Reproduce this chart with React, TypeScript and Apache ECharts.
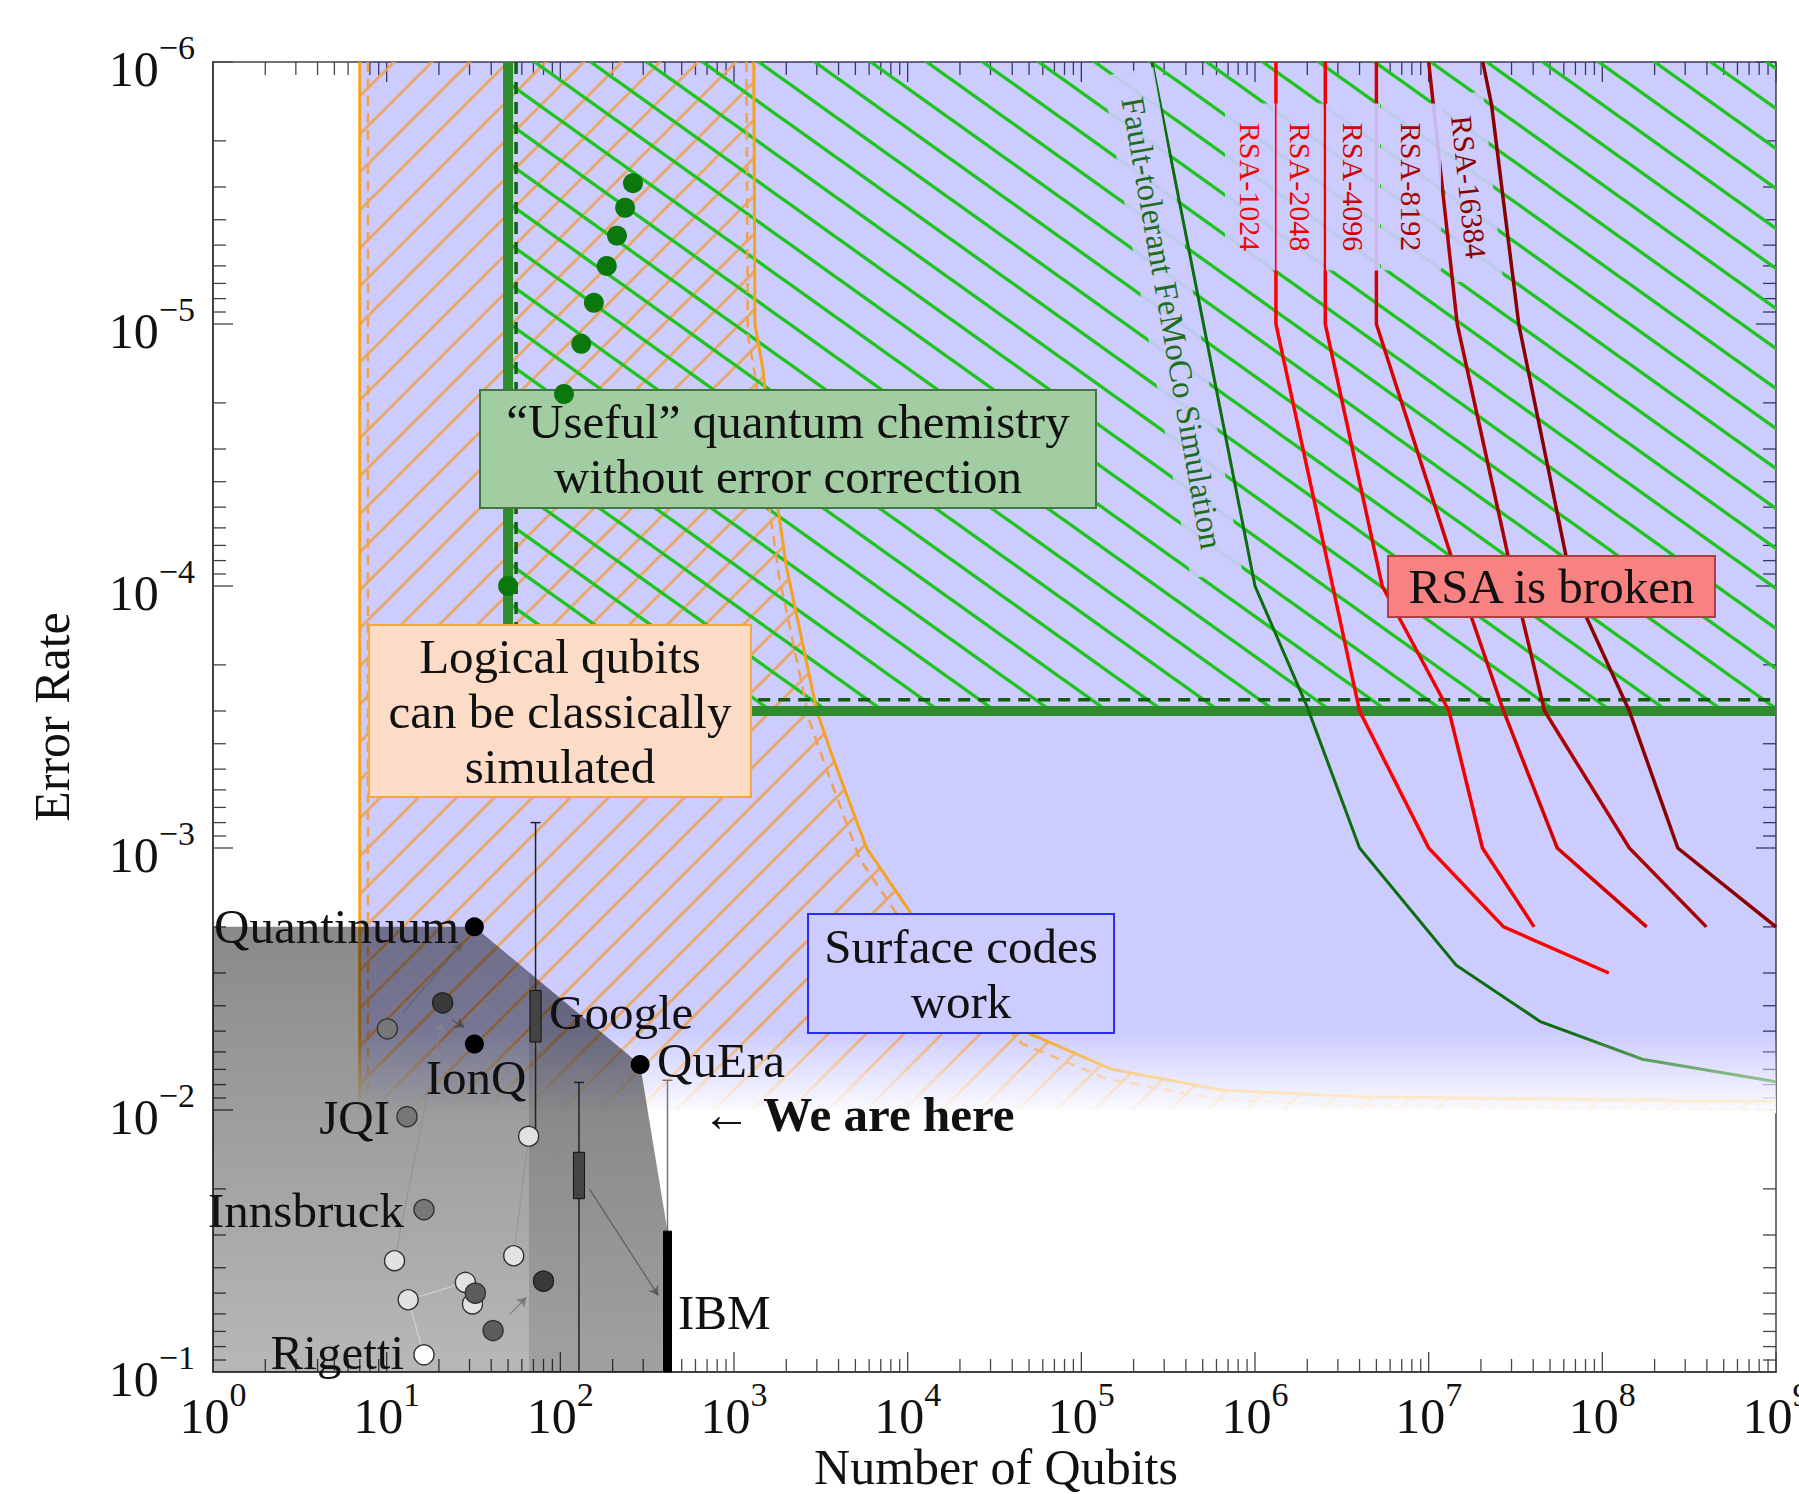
import React, { useEffect, useRef } from 'react';
import * as echarts from 'echarts';

const FONT = '"Liberation Serif", "DejaVu Serif", serif';

// ---------- axes ----------
const X_MIN = 1, X_MAX = 1e9;
const Y_MIN = 1e-6, Y_MAX = 1e-1;
const xDecades = [0, 1, 2, 3, 4, 5, 6, 7, 8, 9];
const yDecades = [-6, -5, -4, -3, -2, -1];
const minorSteps = [2, 3, 4, 5, 6, 7, 8, 9];

// ---------- regions ----------
const surfaceX = [7, 1e9, 1e9, 7];
const surfaceY = [1e-6, 1e-6, 1e-2, 1e-2];
const fadeX = [6.6, 1e9, 1e9, 6.6];
const fadeY = [5e-3, 5e-3, 1.03e-2, 1.03e-2];

const classicalLeft = 7;
const classicalLeftDash = 7.8;
const classicalX = [1300, 1320, 1470, 1700, 2000, 3000, 3700, 5800, 1.06e4, 5.0e4, 1.5e5, 6.5e5, 3.8e6, 1e9];
const classicalY = [1e-6, 1e-5, 1.5e-5, 4e-5, 8.4e-5, 3e-4, 4.5e-4, 1e-3, 1.8e-3, 5.1e-3, 7e-3, 8.4e-3, 8.9e-3, 9.3e-3];
const classicalDashX = [1180, 1200, 1340, 1550, 1820, 2730, 3370, 5300, 9700, 4.6e4, 1.4e5, 6.0e5, 3.5e6, 1e9];
const classicalDashY = [1e-6, 1.1e-5, 1.65e-5, 4.4e-5, 9.2e-5, 3.3e-4, 4.9e-4, 1.1e-3, 2.0e-3, 5.6e-3, 7.6e-3, 9.1e-3, 9.6e-3, 1.0e-2];

const chemQubits = 50, chemError = 3e-4;
const chemDashQubits = 55.6, chemDashError = 2.72e-4;
const chemDotsX = [50, 105, 132, 156, 185, 212, 236, 262];
const chemDotsY = [1e-4, 1.85e-5, 1.19e-5, 8.3e-6, 6.0e-6, 4.6e-6, 3.6e-6, 2.9e-6];

// ---------- algorithm resource curves ----------
const femocoX = [2.55e5, 1.0e6, 2.0e6, 4.0e6, 1.44e7, 4.4e7, 1.7e8, 1e9];
const femocoY = [1e-6, 1e-4, 2.9e-4, 1e-3, 2.8e-3, 4.6e-3, 6.4e-3, 7.8e-3];

const rsaNames = ['RSA-1024', 'RSA-2048', 'RSA-4096', 'RSA-8192', 'RSA-16384'];
const rsa1024X = [1.32e6, 1.32e6, 2.8e6, 4.0e6, 1.0e7, 2.7e7, 1.09e8];
const rsa1024Y = [1e-6, 1e-5, 1e-4, 3e-4, 1e-3, 2e-3, 3e-3];
const rsa2048X = [2.54e6, 2.54e6, 5.4e6, 1.31e7, 2.04e7, 4.05e7];
const rsa2048Y = [1e-6, 1e-5, 1e-4, 3e-4, 1e-3, 2e-3];
const rsa4096X = [5.0e6, 5.0e6, 1.53e7, 2.7e7, 5.5e7, 1.8e8];
const rsa4096Y = [1e-6, 1e-5, 1e-4, 3e-4, 1e-3, 2e-3];
const rsa8192X = [1.0e7, 1.46e7, 3.13e7, 4.65e7, 1.43e8, 3.97e8];
const rsa8192Y = [1e-6, 1e-5, 1e-4, 3e-4, 1e-3, 2e-3];
const rsa16384X = [2.05e7, 2.3e7, 3.3e7, 6.7e7, 1.43e8, 2.72e8, 1e9];
const rsa16384Y = [1e-6, 1.45e-6, 1e-5, 1e-4, 3e-4, 1e-3, 2e-3];
const rsaColors = ['#ff0000', '#f00000', '#d40000', '#aa0000', '#8a0000'];

// ---------- hardware frontier ----------
const frontierX = [1, 32, 288, 414, 414, 1];
const frontierY = [2e-3, 2e-3, 6.7e-3, 2.9e-2, 1e-1, 1e-1];
const frontier2X = [66, 288, 414, 414, 66];
const frontier2Y = [3e-3, 6.7e-3, 2.9e-2, 1e-1, 1e-1];

// ---------- hardware points (qubits, error rate) ----------
const whiteX = [16.4];
const whiteY = [8.6e-2];
const lightX = [11.1, 13.3, 28.4, 31.2, 53.9, 65.7];
const lightY = [3.76e-2, 5.3e-2, 4.55e-2, 5.5e-2, 3.6e-2, 1.26e-2];
const grayX = [10.1, 13.1, 16.4];
const grayY = [4.9e-3, 1.06e-2, 2.4e-2];
const midX = [32.4, 41];
const midY = [5.0e-2, 6.95e-2];
const darkX = [21, 80];
const darkY = [3.9e-3, 4.5e-2];
const blackX = [32, 32, 288];
const blackY = [2.0e-3, 5.6e-3, 6.7e-3];

// error bars: qubits, best, box top, box bottom, worst
const barQubits = [72, 128, 414];
const barBest = [8.0e-4, 7.85e-3, 7.7e-3];
const barBoxTop = [3.5e-3, 1.45e-2, 2.9e-2];
const barBoxBottom = [5.5e-3, 2.18e-2, 1e-1];
const barWorst = [1.24e-2, 1e-1, 1e-1];

// progression arrows
const arrowFrom = [[12.35, 4.28e-3], [23.9, 4.55e-3], [11.1, 3.76e-2], [65.7, 1.26e-2], [85, 1.44e-2], [147, 2.0e-2], [51.5, 6.0e-2]];
const arrowTo = [[27.1, 2.31e-3], [28, 4.83e-3], [20.7, 4.65e-3], [73, 5.46e-3], [101.8, 1.56e-2], [366, 5.1e-2], [63.6, 5.2e-2]];
const arrowColors = ['#555', '#333', '#8a8a8a', '#8a8a8a', '#8a8a8a', '#333', '#555'];
const linkFrom = [[53.9, 3.6e-2], [13.3, 5.3e-2], [13.3, 5.3e-2]];
const linkTo = [[65.7, 1.26e-2], [28.4, 4.55e-2], [16.4, 8.6e-2]];
const linkColors = ['#8a8a8a', '#eeeeee', '#eeeeee'];

// ---------- helpers ----------
const pairs = (xs: number[], ys: number[]) => xs.map((x, i) => [x, ys[i]]);

function hatch(body: string, w: number, h: number) {
  const svg = `<svg xmlns="http://www.w3.org/2000/svg" width="${w}" height="${h}" viewBox="0 0 ${w} ${h}">${body}</svg>`;
  return {
    image: 'data:image/svg+xml;charset=utf-8,' + encodeURIComponent(svg),
    repeat: 'repeat',
    imageWidth: w,
    imageHeight: h,
  };
}

const orangeHatch = hatch(
  '<g stroke="#eea35c" stroke-width="3" stroke-opacity="0.9" fill="none">' +
    '<line x1="-6" y1="6" x2="6" y2="-6"/><line x1="-6" y1="44" x2="44" y2="-6"/><line x1="32" y1="44" x2="44" y2="32"/></g>',
  38, 38
);
const gW = 56, gH = 40, gS = gH / gW;
const gLine = (c: number) => `<line x1="-6" y1="${(-6 * gS + c).toFixed(2)}" x2="${gW + 6}" y2="${((gW + 6) * gS + c).toFixed(2)}"/>`;
const greenHatch = hatch(
  `<g stroke="#1fc41f" stroke-width="3.4" fill="none">${gLine(-gH)}${gLine(0)}${gLine(gH)}</g>`,
  gW, gH
);

function polySeries(xs: number[], ys: number[], style: any, z: number) {
  return {
    type: 'custom',
    z,
    silent: true,
    data: [[xs[0], ys[0]]],
    renderItem: (_p: any, api: any) => ({
      type: 'polygon',
      shape: { points: xs.map((x, i) => api.coord([x, ys[i]])) },
      style,
    }),
  };
}

function lineSeries(xs: number[], ys: number[], color: string, width: number, z: number, type: any = 'solid') {
  return {
    type: 'line',
    data: pairs(xs, ys),
    showSymbol: false,
    symbol: 'none',
    silent: true,
    z,
    lineStyle: { color, width, type, cap: 'butt', join: 'miter' },
  };
}

function scatterSeries(xs: number[], ys: number[], color: string, size: number, border: string, z: number) {
  return {
    type: 'scatter',
    data: pairs(xs, ys),
    symbolSize: size,
    silent: true,
    z,
    itemStyle: { color, borderColor: border, borderWidth: border === 'none' ? 0 : 1.4, opacity: 1 },
  };
}

// ticks (axis decoration)
const tickData: number[][] = [];
xDecades.forEach((d) => tickData.push([Math.pow(10, d), Y_MAX, 0, 1]));
xDecades.slice(0, -1).forEach((d) => minorSteps.forEach((m) => tickData.push([m * Math.pow(10, d), Y_MAX, 0, 0])));
yDecades.forEach((d) => tickData.push([X_MIN, Math.pow(10, d), 1, 1]));
yDecades.slice(0, -1).forEach((d) => minorSteps.forEach((m) => tickData.push([X_MIN, m * Math.pow(10, d), 1, 0])));

const expLabel = (v: number) => {
  const e = Math.round(Math.log10(v));
  const s = e < 0 ? '\u2212' + Math.abs(e) : String(e);
  return `{b|10}{s|${s}}`;
};
const labelRich = {
  b: { fontFamily: FONT, fontSize: 50, lineHeight: 64, color: '#111', verticalAlign: 'bottom' },
  s: { fontFamily: FONT, fontSize: 34, lineHeight: 30, color: '#111', verticalAlign: 'top' },
};

// ---------- annotation layout (pixels) ----------
const boxes = [
  { x: 480, y: 390, w: 616, h: 118, fill: '#a2cca2', stroke: '#3f7a3f', lines: ['\u201cUseful\u201d quantum chemistry', 'without error correction'] },
  { x: 369, y: 625, w: 382, h: 172, fill: '#fddcc7', stroke: '#f4a93e', lines: ['Logical qubits', 'can be classically', 'simulated'] },
  { x: 808, y: 914, w: 306, h: 119, fill: '#ccccff', stroke: '#2b2bff', lines: ['Surface codes', 'work'] },
  { x: 1388, y: 556, w: 327, h: 61, fill: '#f88282', stroke: '#b04040', lines: ['RSA is broken'] },
];
const sideLabels = [
  { text: 'Fault-tolerant FeMoCo Simulation', x: 1172, y: 323, rot: -80, len: 510, thick: 52, color: '#1d6e1d', size: 33 },
  { text: rsaNames[0], x: 1250, y: 187, rot: -90, len: 167, thick: 50, color: rsaColors[0], size: 30 },
  { text: rsaNames[1], x: 1300, y: 187, rot: -90, len: 167, thick: 47, color: rsaColors[1], size: 30 },
  { text: rsaNames[2], x: 1353, y: 187, rot: -90, len: 167, thick: 54, color: rsaColors[2], size: 30 },
  { text: rsaNames[3], x: 1411, y: 187, rot: -90, len: 167, thick: 60, color: rsaColors[3], size: 30 },
  { text: rsaNames[4], x: 1469, y: 187, rot: -84, len: 187, thick: 48, color: rsaColors[4], size: 30 },
];
const pointLabels = [
  { text: 'Quantinuum', x: 459, y: 926, align: 'right' },
  { text: 'Google', x: 549, y: 1012, align: 'left' },
  { text: 'QuEra', x: 657, y: 1060, align: 'left' },
  { text: 'IonQ', x: 476, y: 1077, align: 'center' },
  { text: 'JQI', x: 390, y: 1117, align: 'right' },
  { text: 'Innsbruck', x: 404, y: 1210, align: 'right' },
  { text: 'Rigetti', x: 404, y: 1352, align: 'right' },
  { text: 'IBM', x: 678, y: 1312, align: 'left' },
];

function textEl(text: string, x: number, y: number, size: number, align: string, z: number, extra: any = {}) {
  return {
    type: 'text',
    x,
    y,
    z,
    silent: true,
    style: {
      text,
      x: 0,
      y: 0,
      font: `${size}px ${FONT}`,
      fill: '#111',
      align,
      textAlign: align,
      verticalAlign: 'middle',
      textVerticalAlign: 'middle',
      ...extra,
    },
  };
}

function buildGraphics() {
  const g: any[] = [];
  sideLabels.forEach((l) => {
    g.push({
      type: 'group',
      x: l.x,
      y: l.y,
      rotation: (l.rot * Math.PI) / 180,
      z: 6,
      silent: true,
      children: [
        { type: 'rect', z: 6, shape: { x: -l.len / 2, y: -l.thick / 2, width: l.len, height: l.thick }, style: { fill: 'rgba(204,204,255,0.9)' } },
        { type: 'text', z: 6, style: { text: l.text, x: 0, y: 0, font: `${l.size}px ${FONT}`, fill: l.color, align: 'center', textAlign: 'center', verticalAlign: 'middle', textVerticalAlign: 'middle' } },
      ],
    });
  });
  boxes.forEach((b) => {
    g.push({ type: 'rect', z: 11, silent: true, shape: { x: b.x, y: b.y, width: b.w, height: b.h }, style: { fill: b.fill, stroke: b.stroke, lineWidth: 2 } });
    g.push(textEl(b.lines.join('\n'), b.x + b.w / 2, b.y + b.h / 2, 49, 'center', 12, { lineHeight: 55 }));
  });
  pointLabels.forEach((p) => g.push(textEl(p.text, p.x, p.y, 49, p.align, 12)));
  g.push({
    type: 'text', x: 702, y: 1114, z: 12, silent: true,
    style: {
      text: '{a|\u2190 }{b|We are here}',
      x: 0, y: 0, align: 'left', textAlign: 'left', verticalAlign: 'middle', textVerticalAlign: 'middle',
      rich: {
        a: { fontFamily: FONT, fontSize: 49, fill: '#111', color: '#111' },
        b: { fontFamily: FONT, fontSize: 49, fontWeight: 'bold', fill: '#111', color: '#111' },
      },
    },
  });
  g.push(textEl('Error Rate', 52, 717, 50, 'center', 12));
  g[g.length - 1].rotation = Math.PI / 2;
  g.push(textEl('Number of Qubits', 996, 1467, 50, 'center', 12));
  return g;
}

function buildOption() {
  const series: any[] = [];

  // axis ticks on all four sides
  series.push({
    type: 'custom',
    z: 1,
    silent: true,
    data: tickData,
    renderItem: (_p: any, api: any) => {
      const kind = api.value(2);
      const len = api.value(3) ? 20 : 13;
      const st = { stroke: '#444', lineWidth: 1.3 };
      if (kind === 0) {
        const v = api.value(0);
        const b = api.coord([v, Y_MAX]);
        const t = api.coord([v, Y_MIN]);
        return {
          type: 'group',
          children: [
            { type: 'line', shape: { x1: b[0], y1: b[1], x2: b[0], y2: b[1] - len }, style: st },
            { type: 'line', shape: { x1: t[0], y1: t[1], x2: t[0], y2: t[1] + len }, style: st },
          ],
        };
      }
      const v = api.value(1);
      const l = api.coord([X_MIN, v]);
      const r = api.coord([X_MAX, v]);
      return {
        type: 'group',
        children: [
          { type: 'line', shape: { x1: l[0], y1: l[1], x2: l[0] + len, y2: l[1] }, style: st },
          { type: 'line', shape: { x1: r[0], y1: r[1], x2: r[0] - len, y2: r[1] }, style: st },
        ],
      };
    },
  });

  // regions
  series.push(polySeries(surfaceX, surfaceY, { fill: 'rgba(0,0,255,0.2)' }, 2));
  series.push(
    polySeries(
      [classicalLeft, ...classicalX, 1e9, classicalLeft],
      [Y_MIN, ...classicalY, 1e-2, 1e-2],
      { fill: orangeHatch },
      3
    )
  );
  series.push(polySeries([chemQubits, X_MAX, X_MAX, chemQubits], [Y_MIN, Y_MIN, chemError, chemError], { fill: greenHatch }, 3));

  // region boundaries
  series.push(lineSeries([classicalLeft, classicalLeft], [Y_MIN, 1e-2], '#f5a21f', 3, 4));
  series.push(lineSeries(classicalX, classicalY, '#f5a21f', 3, 4));
  series.push(lineSeries([classicalLeftDash, classicalLeftDash], [Y_MIN, 1e-2], '#efa255', 2.6, 4, [10, 7]));
  series.push(lineSeries(classicalDashX, classicalDashY, '#efa255', 2.6, 4, [10, 7]));
  series.push(lineSeries([chemQubits, chemQubits, X_MAX], [Y_MIN, chemError, chemError], '#2e8b2e', 10, 4));
  series.push(lineSeries([chemDashQubits, chemDashQubits, X_MAX], [Y_MIN, chemDashError, chemDashError], '#0f5f0f', 3.5, 4, [12, 8]));

  // algorithm curves
  series.push(lineSeries(femocoX, femocoY, '#0b6d0b', 3, 5));
  const rsaX = [rsa1024X, rsa2048X, rsa4096X, rsa8192X, rsa16384X];
  const rsaY = [rsa1024Y, rsa2048Y, rsa4096Y, rsa8192Y, rsa16384Y];
  rsaX.forEach((xs, i) => series.push(lineSeries(xs, rsaY[i], rsaColors[i], 3.5, 5)));

  // fade toward the 1% threshold
  series.push(
    polySeries(fadeX, fadeY, {
      fill: new echarts.graphic.LinearGradient(0, 0, 0, 1, [
        { offset: 0, color: 'rgba(255,255,255,0)' },
        { offset: 1, color: 'rgba(255,255,255,0.95)' },
      ]),
    }, 7)
  );

  // hardware frontier
  series.push(
    polySeries(frontierX, frontierY, {
      fill: new echarts.graphic.LinearGradient(0, 0, 0, 1, [
        { offset: 0, color: 'rgba(0,0,0,0.46)' },
        { offset: 1, color: 'rgba(0,0,0,0.28)' },
      ]),
    }, 8)
  );
  series.push(polySeries(frontier2X, frontier2Y, { fill: 'rgba(0,0,0,0.12)' }, 8));

  // connections
  series.push({
    type: 'lines',
    coordinateSystem: 'cartesian2d',
    z: 9,
    silent: true,
    symbol: ['none', 'none'],
    data: linkFrom.map((f, i) => ({ coords: [f, linkTo[i]], lineStyle: { color: linkColors[i], width: 1.3 } })),
  });
  series.push({
    type: 'lines',
    coordinateSystem: 'cartesian2d',
    z: 9,
    silent: true,
    symbol: ['none', 'arrow'],
    symbolSize: 9,
    data: arrowFrom.map((f, i) => ({ coords: [f, arrowTo[i]], lineStyle: { color: arrowColors[i], width: 1.4 } })),
  });

  // error bars
  const barStyles = [
    { whisker: '#222', fill: '#444', stroke: '#111', w: 11 },
    { whisker: '#222', fill: '#444', stroke: '#111', w: 11 },
    { whisker: '#777', fill: '#000', stroke: '#000', w: 8 },
  ];
  series.push({
    type: 'custom',
    z: 9,
    silent: true,
    data: barQubits.map((q, i) => [q, barBest[i], barBoxTop[i], barBoxBottom[i], barWorst[i], i]),
    renderItem: (_p: any, api: any) => {
      const x = api.value(0);
      const pBest = api.coord([x, api.value(1)]);
      const pTop = api.coord([x, api.value(2)]);
      const pBot = api.coord([x, api.value(3)]);
      const pWorst = api.coord([x, api.value(4)]);
      const st = barStyles[api.value(5)];
      return {
        type: 'group',
        children: [
          { type: 'line', shape: { x1: pBest[0], y1: pBest[1], x2: pWorst[0], y2: pWorst[1] }, style: { stroke: st.whisker, lineWidth: 1.5 } },
          { type: 'line', shape: { x1: pBest[0] - 5, y1: pBest[1], x2: pBest[0] + 5, y2: pBest[1] }, style: { stroke: st.whisker, lineWidth: 1.5 } },
          { type: 'rect', shape: { x: pTop[0] - st.w / 2, y: pTop[1], width: st.w, height: pBot[1] - pTop[1] }, style: { fill: st.fill, stroke: st.stroke, lineWidth: 1 } },
        ],
      };
    },
  });

  // hardware points
  series.push(scatterSeries(whiteX, whiteY, '#ffffff', 20, '#333', 10));
  series.push(scatterSeries(lightX, lightY, '#e2e2e2', 20, '#333', 10));
  series.push(scatterSeries(grayX, grayY, '#777777', 20, '#333', 10));
  series.push(scatterSeries(midX, midY, '#5c5c5c', 20, '#333', 10));
  series.push(scatterSeries(darkX, darkY, '#3a3a3a', 20, '#222', 10));
  series.push(scatterSeries(blackX, blackY, '#000000', 19, 'none', 10));
  series.push(scatterSeries(chemDotsX, chemDotsY, '#0b780b', 20, 'none', 13));

  return {
    animation: false,
    backgroundColor: '#ffffff',
    grid: {
      left: 213,
      right: 23,
      top: 62,
      bottom: 122,
      show: true,
      borderColor: '#444',
      borderWidth: 1.5,
      backgroundColor: 'transparent',
      containLabel: false,
      outerBoundsMode: 'none',
    },
    xAxis: {
      type: 'log',
      logBase: 10,
      min: X_MIN,
      max: X_MAX,
      splitNumber: 10,
      axisLine: { show: true, lineStyle: { color: '#333', width: 1.5 } },
      axisTick: { show: false },
      minorTick: { show: false },
      splitLine: { show: false },
      axisLabel: { margin: 5, formatter: expLabel, rich: labelRich },
    },
    yAxis: {
      type: 'log',
      logBase: 10,
      min: Y_MIN,
      max: Y_MAX,
      inverse: true,
      splitNumber: 10,
      axisLine: { show: true, lineStyle: { color: '#333', width: 1.5 } },
      axisTick: { show: false },
      minorTick: { show: false },
      splitLine: { show: false },
      axisLabel: { margin: 18, formatter: expLabel, rich: labelRich },
    },
    series,
    graphic: { elements: buildGraphics() },
  };
}

export default function App() {
  const ref = useRef<HTMLDivElement>(null);
  useEffect(() => {
    const chart = echarts.init(ref.current as HTMLDivElement, null, { renderer: 'svg' });
    chart.setOption(buildOption() as any);
    return () => chart.dispose();
  }, []);
  return (
    <div
      ref={ref}
      style={{ position: 'fixed', left: 0, top: 0, width: '1799px', height: '1494px', background: '#fff' }}
    />
  );
}
